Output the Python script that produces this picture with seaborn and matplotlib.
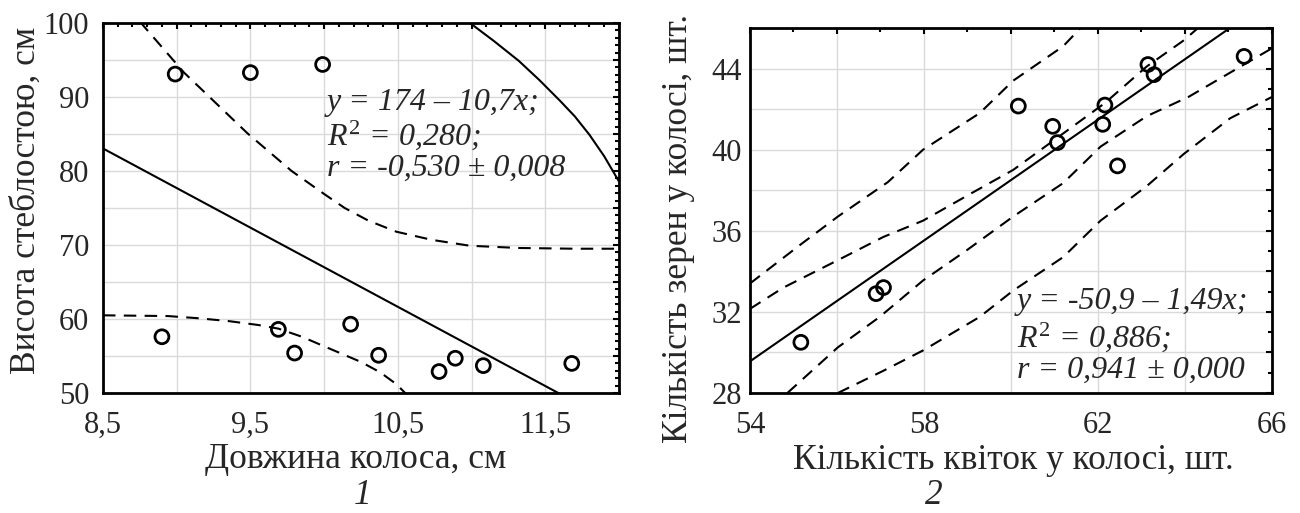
import matplotlib
matplotlib.use("Agg")
import matplotlib.pyplot as plt
from matplotlib.ticker import MultipleLocator
import seaborn as sns
import numpy as np
import pandas as pd

# =========================
# PANEL 1 DATA
# =========================
ear_length = [8.99, 9.50, 9.99, 8.90, 9.69, 9.80, 10.18, 10.37, 10.78, 10.89, 11.08, 11.68]
stem_height = [93.1, 93.3, 94.4, 57.6, 58.6, 55.4, 59.3, 55.1, 52.9, 54.7, 53.7, 54.0]
fit1_a, fit1_b = 174.0, -10.7

band1_up_x = [8.75, 9.05, 9.48, 9.78, 10.0, 10.14, 10.3, 10.49, 10.73, 10.99, 11.32, 11.7, 12.0]
band1_up_y = [100.2, 93.3, 85.1, 80.0, 76.9, 75.0, 73.3, 71.8, 70.7, 69.9, 69.6, 69.5, 69.5]
band1_lo_x = [8.5, 8.94, 9.15, 9.36, 9.55, 9.69, 9.85, 9.99, 10.12, 10.25, 10.38, 10.49, 10.56]
band1_lo_y = [60.5, 60.4, 60.1, 59.7, 59.2, 58.7, 57.6, 56.4, 55.3, 54.2, 52.8, 51.2, 49.8]
curve1_x = [10.99, 11.15, 11.32, 11.46, 11.60, 11.70, 11.80, 11.90, 12.0]
curve1_y = [100.0, 97.6, 94.9, 92.3, 89.5, 87.4, 84.9, 82.0, 78.6]

left_xticks = [8.5, 9.0, 9.5, 10.0, 10.5, 11.0, 11.5, 12.0]
left_xticklabels = ["8,5", "", "9,5", "", "10,5", "", "11,5", ""]
left_yticks = [50, 55, 60, 65, 70, 75, 80, 85, 90, 95, 100]
left_yticklabels = ["50", "", "60", "", "70", "", "80", "", "90", "", "100"]

# =========================
# PANEL 2 DATA
# =========================
spikelets = [55.17, 56.90, 57.07, 60.17, 60.96, 61.07, 62.11, 62.16, 62.45, 63.15, 63.29, 65.36]
grains = [30.5, 32.9, 33.2, 42.15, 41.15, 40.35, 41.25, 42.2, 39.2, 44.2, 43.7, 44.6]
fit2_a, fit2_b = -50.9, 1.49

band2_out_up_x = [54.0, 55.15, 56.02, 57.17, 57.98, 59.28, 60.05, 61.2, 61.6]
band2_out_up_y = [33.4, 35.3, 36.7, 38.4, 40.0, 41.8, 43.4, 45.1, 46.0]
band2_in_up_x = [54.0, 54.77, 56.02, 57.07, 57.98, 59.09, 60.05, 61.01, 62.16, 63.12, 63.98, 64.3]
band2_in_up_y = [32.15, 33.2, 34.55, 35.7, 36.5, 37.85, 39.0, 40.5, 42.3, 44.1, 45.4, 46.0]
band2_in_lo_x = [54.86, 56.02, 56.98, 57.98, 58.99, 60.05, 61.2, 62.06, 63.12, 64.08, 65.04, 66.0]
band2_in_lo_y = [28.0, 30.25, 31.75, 33.55, 35.05, 36.7, 38.35, 40.15, 41.65, 42.6, 43.8, 45.0]
band2_out_lo_x = [56.02, 57.07, 57.98, 59.28, 60.05, 61.2, 62.06, 63.12, 63.98, 65.04, 66.0]
band2_out_lo_y = [28.0, 29.1, 30.1, 31.75, 33.05, 34.7, 36.5, 38.2, 39.8, 41.55, 42.6]

right_xticks = [54, 56, 58, 60, 62, 64, 66]
right_xticklabels = ["54", "", "58", "", "62", "", "66"]
right_yticks = [28, 30, 32, 34, 36, 38, 40, 42, 44, 46]
right_yticklabels = ["28", "", "32", "", "36", "", "40", "", "44", ""]

sns.set_theme(style="white")
plt.rcParams['font.family'] = ['Liberation Serif', 'DejaVu Serif']
plt.rcParams['mathtext.fontset'] = 'custom'
plt.rcParams['mathtext.rm'] = 'Liberation Serif'
plt.rcParams['mathtext.it'] = 'Liberation Serif:italic'
plt.rcParams['mathtext.default'] = 'it'

fig = plt.figure(figsize=(13, 5.13), dpi=100)
ax1 = fig.add_axes([0.0792, 0.2339, 0.3969, 0.7212])
ax2 = fig.add_axes([0.5769, 0.2339, 0.4015, 0.7115])

dash = (0, (6, 4))
TICK_FS = 22
NOTE_FS = 23
LABEL_FS = 25.5


def style_axes(ax, xlim, ylim, xticks, xlabels, yticks, ylabels, xminor, yminor, ypad):
    ax.set_xlim(*xlim)
    ax.set_ylim(*ylim)
    ax.set_xticks(xticks)
    ax.set_xticklabels(xlabels)
    ax.set_yticks(yticks)
    ax.set_yticklabels(ylabels)
    ax.xaxis.set_minor_locator(MultipleLocator(xminor))
    ax.yaxis.set_minor_locator(MultipleLocator(yminor))
    ax.grid(True, which='major', color='#dadada', lw=1)
    ax.tick_params(which='both', direction='in', top=True, right=True,
                   color='black', width=1.5)
    ax.tick_params(which='major', length=4, labelsize=TICK_FS)
    ax.tick_params(which='minor', length=3)
    ax.tick_params(axis='x', which='major', pad=13)
    ax.tick_params(axis='y', which='major', pad=ypad)
    for sp in ax.spines.values():
        sp.set_color('black')
        sp.set_linewidth(2)
        sp.set_visible(True)
    ax.set_axisbelow(True)


def line(ax, x, y, ls):
    sns.lineplot(x=x, y=y, ax=ax, color='black', lw=1.5, estimator=None,
                 sort=False, linestyle=ls)


# ---- panel 1
style_axes(ax1, (8.5, 12.0), (50, 100), left_xticks, left_xticklabels,
           left_yticks, left_yticklabels, 0.1, 1, 10)
fx1 = np.array([8.5, 12.0])
line(ax1, fx1, fit1_a + fit1_b * fx1, '-')
line(ax1, band1_up_x, band1_up_y, dash)
line(ax1, band1_lo_x, band1_lo_y, dash)
line(ax1, curve1_x, curve1_y, '-')
sns.scatterplot(x=ear_length, y=stem_height, ax=ax1, marker='o', s=100,
                facecolor='none', edgecolor='black', linewidth=2, zorder=5)
ax1.text(10.02, 89.2, "y = 174 – 10,7x;", fontsize=NOTE_FS, style='italic', va='center')
ax1.text(10.02, 84.9, "$R^2$ = 0,280;", fontsize=NOTE_FS, style='italic', va='center')
ax1.text(10.02, 80.4, "r = -0,530 ± 0,008", fontsize=NOTE_FS, style='italic', va='center')
ax1.set_xlabel("Довжина колоса, см", fontsize=LABEL_FS, va='center')
ax1.xaxis.set_label_coords(0.49, -0.181)
ax1.set_ylabel("Висота стеблостою, см", fontsize=LABEL_FS, va='center')
ax1.yaxis.set_label_coords(-0.148, 0.52)

# ---- panel 2
style_axes(ax2, (54, 66), (28, 46), right_xticks, right_xticklabels,
           right_yticks, right_yticklabels, 1, 1, 6)
fx2 = np.array([54.0, 66.0])
line(ax2, fx2, fit2_a + fit2_b * fx2, '-')
line(ax2, band2_out_up_x, band2_out_up_y, dash)
line(ax2, band2_in_up_x, band2_in_up_y, dash)
line(ax2, band2_in_lo_x, band2_in_lo_y, dash)
line(ax2, band2_out_lo_x, band2_out_lo_y, dash)
sns.scatterplot(x=spikelets, y=grains, ax=ax2, marker='o', s=100,
                facecolor='none', edgecolor='black', linewidth=2, zorder=5)
ax2.text(60.14, 32.5, "y = -50,9 – 1,49x;", fontsize=NOTE_FS, style='italic', va='center')
ax2.text(60.14, 30.75, "$R^2$ = 0,886;", fontsize=NOTE_FS, style='italic', va='center')
ax2.text(60.14, 29.1, "r = 0,941 ± 0,000", fontsize=NOTE_FS, style='italic', va='center')
ax2.set_xlabel("Кількість квіток у колосі, шт.", fontsize=LABEL_FS, va='center')
ax2.xaxis.set_label_coords(0.504, -0.184)
ax2.set_ylabel("Кількість зерен у колосі, шт.", fontsize=LABEL_FS, va='center')
ax2.yaxis.set_label_coords(-0.136, 0.45)

fig.text(0.279, 0.035, "1", fontsize=LABEL_FS, style='italic', ha='center', va='center')
fig.text(0.718, 0.035, "2", fontsize=LABEL_FS, style='italic', ha='center', va='center')

fig.savefig("out.png", dpi=100)
